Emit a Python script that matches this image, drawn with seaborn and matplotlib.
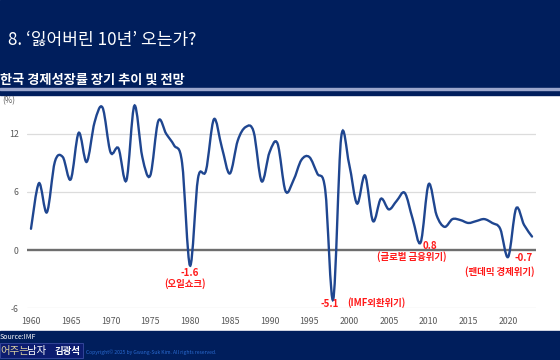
import matplotlib
matplotlib.use("Agg")
import matplotlib.pyplot as plt
import matplotlib.patches as mpatches
from matplotlib.path import Path
import seaborn as sns

years = list(range(1960, 2024))
growth = [2.2, 6.9, 3.9, 9.1, 9.6, 7.3, 12.1, 9.1, 13.2, 14.7,
          10.1, 10.5, 7.2, 14.9, 9.6, 7.7, 13.3, 12.0, 10.8, 9.0,
          -1.6, 7.4, 8.2, 13.5, 10.6, 7.9, 11.3, 12.7, 12.2, 7.1,
          10.1, 11.0, 6.1, 7.2, 9.3, 9.6, 7.9, 6.2, -5.1, 11.6,
          8.9, 4.8, 7.7, 3.0, 5.3, 4.2, 5.1, 5.9, 3.2, 0.8,
          6.8, 3.6, 2.4, 3.2, 3.1, 2.8, 3.0, 3.2, 2.8, 2.2,
          -0.7, 4.3, 2.6, 1.4]
xticks = list(range(1960, 2021, 5))
yticks = [-6, 0, 6, 12]

crisis_years = [1980, 1998, 2009, 2020]
crisis_values = ["-1.6", "-5.1", "0.8", "-0.7"]
crisis_names = ["(오일쇼크)", "(IMF외환위기)", "(글로벌 금융위기)", "(팬데믹 경제위기)"]

NAVY = "#001e5c"
LINE = "#1f4690"
RED = "#ff1a1a"
GRAY = "#595959"

sns.set_style("white")
plt.rcParams["font.family"] = ["Noto Sans CJK KR", "DejaVu Sans"]

fig = plt.figure(figsize=(5.6, 3.6), dpi=100)
fig.patch.set_facecolor("white")

# header / footer bands
fig.patches.append(mpatches.Rectangle((0, 1 - 95 / 360), 1, 95 / 360, transform=fig.transFigure,
                                      color=NAVY, zorder=0))
fig.patches.append(mpatches.Rectangle((0, 1 - 89.5 / 360), 1, 1.1 / 360, transform=fig.transFigure,
                                      color="#9aa6cc", zorder=1))
fig.patches.append(mpatches.Rectangle((0, 0), 1, 29.5 / 360, transform=fig.transFigure,
                                      color=NAVY, zorder=0))

fig.text(0.014, 1 - 40 / 360, "8. \u2018잃어버린 10년\u2019 오는가?", color="white",
         fontsize=12.3, va="center", ha="left")
fig.text(0.0, 1 - 79.5 / 360, "한국 경제성장률 장기 추이 및 전망", color="white",
         fontsize=9.5, fontweight="bold", va="center", ha="left")

ax = fig.add_axes([27 / 560, 1 - 308.3 / 360, 509 / 560, 213.3 / 360])
ax.set_facecolor("none")

# smoothed line (Excel-style bezier through the data points)
pts = list(zip(years, growth))
verts = [pts[0]]
codes = [Path.MOVETO]
for i in range(len(pts) - 1):
    p0 = pts[i - 1] if i > 0 else pts[i]
    p1 = pts[i]
    p2 = pts[i + 1]
    p3 = pts[i + 2] if i + 2 < len(pts) else pts[i + 1]
    c1 = (p1[0] + (p2[0] - p0[0]) / 6, p1[1] + (p2[1] - p0[1]) / 6)
    c2 = (p2[0] - (p3[0] - p1[0]) / 6, p2[1] - (p3[1] - p1[1]) / 6)
    verts += [c1, c2, p2]
    codes += [Path.CURVE4] * 3
ax.add_patch(mpatches.PathPatch(Path(verts, codes), facecolor="none", edgecolor=LINE,
                                lw=1.7, zorder=3, capstyle="round"))

ax.set_xlim(1959.5, 2023.5)
ax.set_ylim(-6, 16)
ax.set_xticks(xticks)
ax.set_xticklabels([str(x) for x in xticks], fontsize=6.3, color=GRAY)
ax.set_yticks(yticks)
ax.set_yticklabels([str(y) for y in yticks], fontsize=6.3, color=GRAY)
ax.tick_params(length=0, pad=6)
for y in [-6, 6, 12]:
    ax.axhline(y, color="#dcdcdc", lw=0.9, zorder=1)
ax.axhline(0, color="#6e6e6e", lw=1.7, zorder=2)
sns.despine(ax=ax, left=True, bottom=True)

fig.text(0.004, 1 - 101 / 360, "(%)", fontsize=5.8, color=GRAY, va="center")

# crisis annotations
val_pos = [(1980.0, -2.35), (1997.6, -5.6), (2010.2, 0.45), (2021.9, -0.77)]
name_pos = [(1979.4, -3.5, "center"), (1999.75, -5.4, "left"),
            (2007.9, -0.66, "center"), (2019.0, -2.2, "center")]
for v, vp, n, np_ in zip(crisis_values, val_pos, crisis_names, name_pos):
    ax.text(vp[0], vp[1], v, color=RED, fontsize=7, fontweight="bold",
            ha="center", va="center", zorder=4)
    ax.text(np_[0], np_[1], n, color=RED, fontsize=6.8, fontweight="bold",
            ha=np_[2], va="center", zorder=4)

# footer
fig.text(0.0, 1 - 337 / 360, "Source:IMF", fontsize=5, color="white", va="center")
fig.text(86 / 560, 1 - 352 / 360, "Copyright\u00a9 2025 by Gwang-Suk Kim. All rights reserved.",
         fontsize=3.6, color="#2a6ad0", va="center", ha="left")
fig.patches.append(mpatches.Rectangle((0, 1 - 358 / 360), 83 / 560, 15 / 360,
                                      transform=fig.transFigure, facecolor="#0c1c70",
                                      edgecolor="#3a4ba0", lw=0.6, zorder=2))
fig.text(0.0, 1 - 351 / 360, "어주는", fontsize=7.5, color="#d8cfa0", va="center", zorder=3)
fig.text(27 / 560, 1 - 351 / 360, "남자", fontsize=7.5, color="white", va="center", zorder=3)
fig.text(55 / 560, 1 - 351 / 360, "김광석", fontsize=6.8, fontweight="bold",
         color="white", va="center", zorder=3)

fig.savefig("out.png", dpi=100, facecolor=fig.get_facecolor())
